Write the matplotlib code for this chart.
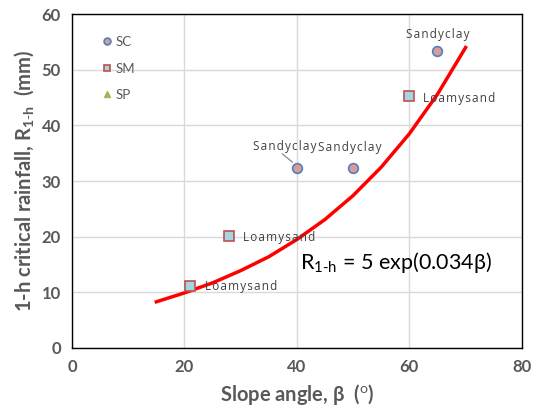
import numpy as np
import matplotlib.pyplot as plt

plt.rcParams['font.family'] = ['Lato', 'DejaVu Sans']
plt.rcParams['mathtext.fontset'] = 'custom'
plt.rcParams['mathtext.rm'] = 'Lato'
plt.rcParams['mathtext.bf'] = 'Lato:bold'

# data
sc_x = [40, 50, 65]
sc_y = [32.3, 32.3, 53.3]
sm_x = [21, 28, 60]
sm_y = [11.2, 20.2, 45.3]

fit_x = [15, 20, 25, 30, 35, 40, 45, 50, 55, 60, 65, 70]
fit_y = [8.3, 9.9, 11.7, 13.9, 16.4, 19.5, 23.1, 27.4, 32.5, 38.5, 45.6, 54.0]

gray = '#595959'

fig = plt.figure(figsize=(5.33, 4.16), dpi=100)
ax = fig.add_axes([0.135, 0.1635, 0.844, 0.8025])

ax.plot(fit_x, fit_y, color='red', lw=2.5, zorder=2)
ax.plot(sc_x, sc_y, 'o', ms=7, mfc='#dc9a9a', mec='#4f81bd', mew=1.2, ls='none', label='SC', zorder=3)
ax.plot(sm_x, sm_y, 's', ms=7, mfc='#a5d5e2', mec='#c0504d', mew=1.2, ls='none', label='SM', zorder=3)
ax.plot([], [], '^', ms=7, mfc='#9bbb59', mec='#9bbb59', ls='none', label='SP')

lab = dict(fontsize=8.5, color='#404040', family='Open Sans')
sp = '\u200a'
sandy = sp.join('Sandyclay')
loamy = sp.join('Loamysand')
ax.text(37.8, 36.2, sandy, ha='center', va='center', **lab)
ax.plot([37.4, 39.2], [34.9, 33.4], color='#7f7f7f', lw=0.8)
ax.text(49.4, 36.0, sandy, ha='center', va='center', **lab)
ax.text(65.1, 56.3, sandy, ha='center', va='center', **lab)
ax.text(62.4, 44.9, loamy, ha='left', va='center', **lab)
ax.text(30.4, 19.9, loamy, ha='left', va='center', **lab)
ax.text(23.6, 11.0, loamy, ha='left', va='center', **lab)

ax.text(40.5, 15.4, r'R$_{\mathrm{1\text{-}h}}$ = 5 exp(0.034β)', fontsize=15.5,
        ha='left', va='center', color='black')

ax.set_xlim(0, 80)
ax.set_ylim(0, 60)
ax.set_xticks(range(0, 81, 20))
ax.set_yticks(range(0, 61, 10))
ax.grid(True, color='#d9d9d9', lw=1)
ax.set_axisbelow(True)
for s in ax.spines.values():
    s.set_color('black')
    s.set_linewidth(1)
ax.tick_params(length=0, pad=8, labelsize=12, labelcolor=gray)
for t in ax.get_xticklabels() + ax.get_yticklabels():
    t.set_fontweight('bold')

ax.set_xlabel(r'Slope angle, β  ($^{\mathrm{o}}$)', fontsize=14.5, fontweight='bold', color=gray, labelpad=5)
ax.set_ylabel(r'1-h critical rainfall, R$_{\mathbf{1\text{-}h}}$  (mm)', fontsize=14.5, fontweight='bold',
              color=gray, labelpad=4)

leg = ax.legend(loc='upper left', bbox_to_anchor=(0.035, 0.97), frameon=False, fontsize=9.5,
                handletextpad=0.0, labelspacing=1.1, handlelength=1.2, markerscale=0.7)
for t in leg.get_texts():
    t.set_color(gray)

fig.savefig('out.png', dpi=100)
